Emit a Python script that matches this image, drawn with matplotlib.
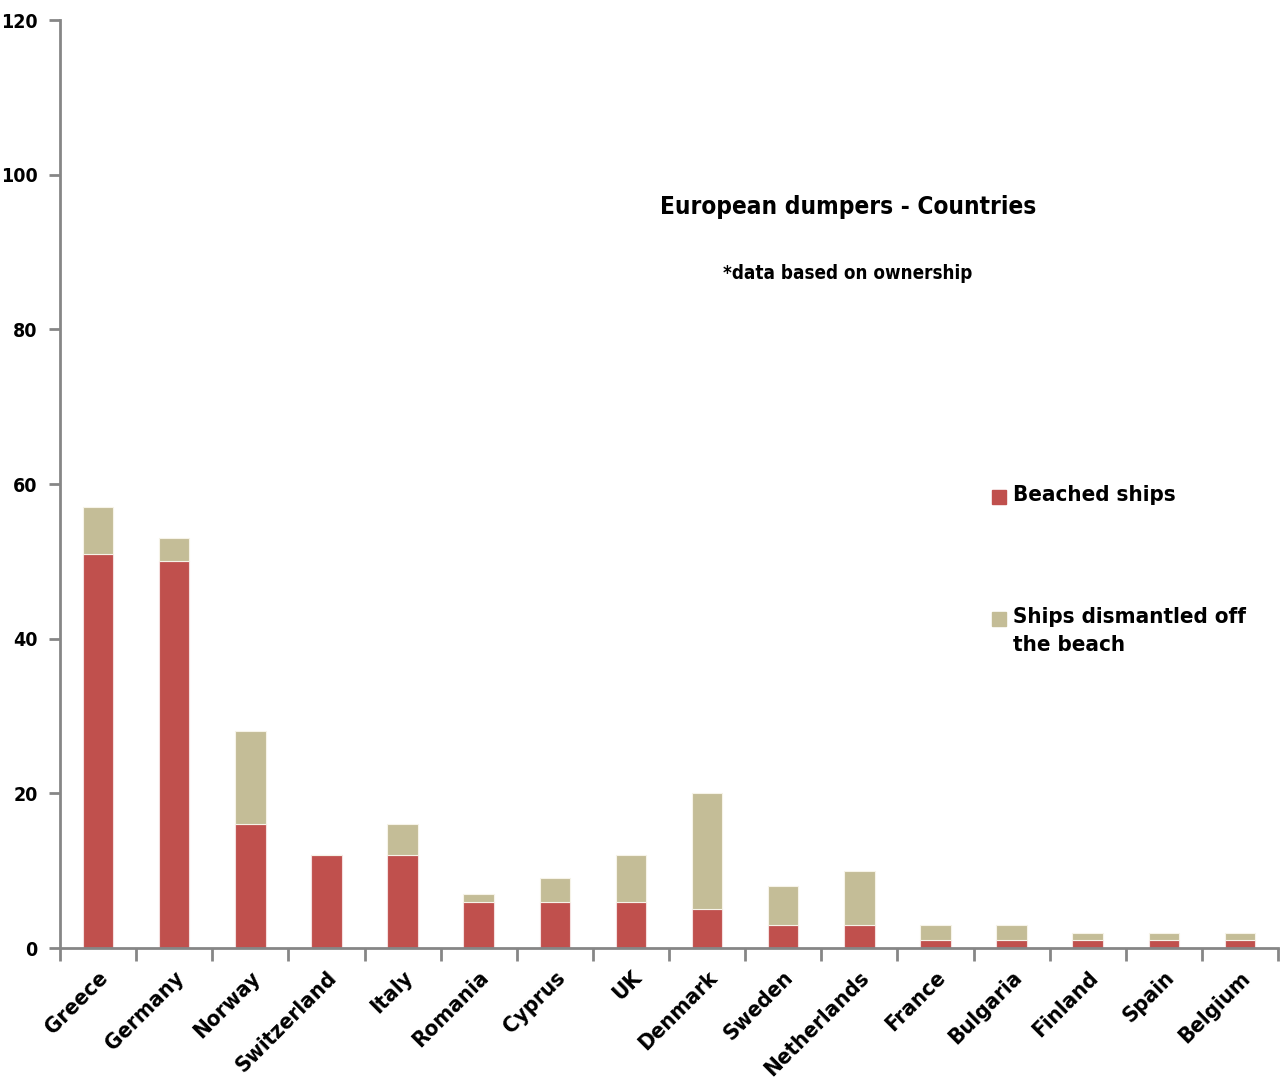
import matplotlib.pyplot as plt
import numpy as np
from matplotlib.patches import Rectangle
from matplotlib.ticker import FixedLocator

# Ship counts per owner country
countries = ['Greece', 'Germany', 'Norway', 'Switzerland', 'Italy', 'Romania',
             'Cyprus', 'UK', 'Denmark', 'Sweden', 'Netherlands', 'France',
             'Bulgaria', 'Finland', 'Spain', 'Belgium']
beached = [51, 50, 16, 12, 12, 6, 6, 6, 5, 3, 3, 1, 1, 1, 1, 1]
off_beach = [6, 3, 12, 0, 4, 1, 3, 6, 15, 5, 7, 2, 2, 1, 1, 1]
series_labels = ['Beached ships', 'Ships dismantled off\nthe beach']

RED = '#c0504d'
TAN = '#c4bd97'
GREY = '#868686'

plt.rcParams['font.family'] = ['DejaVu Sans']
plt.rcParams['font.stretch'] = 'condensed'
plt.rcParams['font.weight'] = 'bold'

fig = plt.figure(figsize=(12.84, 10.84), dpi=100)
ax = fig.add_axes([60 / 1284, 1 - 948 / 1084, 1218 / 1284, 928 / 1084])

x = np.arange(len(countries))
ax.bar(x, beached, width=0.4, color=RED, edgecolor='#f4dede', linewidth=0.8)
ax.bar(x, off_beach, width=0.4, bottom=beached, color=TAN, edgecolor='#f6f3e8',
       linewidth=0.8)

ax.set_xlim(-0.5, len(countries) - 0.5)
ax.set_ylim(0, 120)
ax.set_yticks(range(0, 121, 20))

ax.set_xticks(x)
ax.set_xticklabels(countries, rotation=45, ha='right', va='top',
                   rotation_mode='anchor', fontsize=16)
ax.xaxis.set_minor_locator(FixedLocator(np.arange(-0.5, len(countries), 1)))
ax.tick_params(axis='x', which='major', length=0, pad=14)
ax.tick_params(axis='x', which='minor', length=9, width=2, color=GREY)
ax.tick_params(axis='y', length=8, width=2, color=GREY, labelsize=14, pad=8)

for side in ('top', 'right'):
    ax.spines[side].set_visible(False)
for side in ('left', 'bottom'):
    ax.spines[side].set_color(GREY)
    ax.spines[side].set_linewidth(2)

ax.text(0.647, 0.798, 'European dumpers - Countries', transform=ax.transAxes,
        ha='center', va='center', fontsize=17.5)
ax.text(0.647, 0.727, '*data based on ownership', transform=ax.transAxes,
        ha='center', va='center', fontsize=13.5)

# key: square swatch next to the first line of each label
key_y = [0.486, 0.3545]
for label, colour, ky in zip(series_labels, [RED, TAN], key_y):
    ax.add_patch(Rectangle((0.765, ky - 0.0075), 0.0115, 0.015,
                           transform=ax.transAxes, color=colour, clip_on=False))
    ax.text(0.7825, ky + 0.0125, label, transform=ax.transAxes, ha='left',
            va='top', fontsize=16, linespacing=1.5)

fig.savefig('out.png', dpi=100)
